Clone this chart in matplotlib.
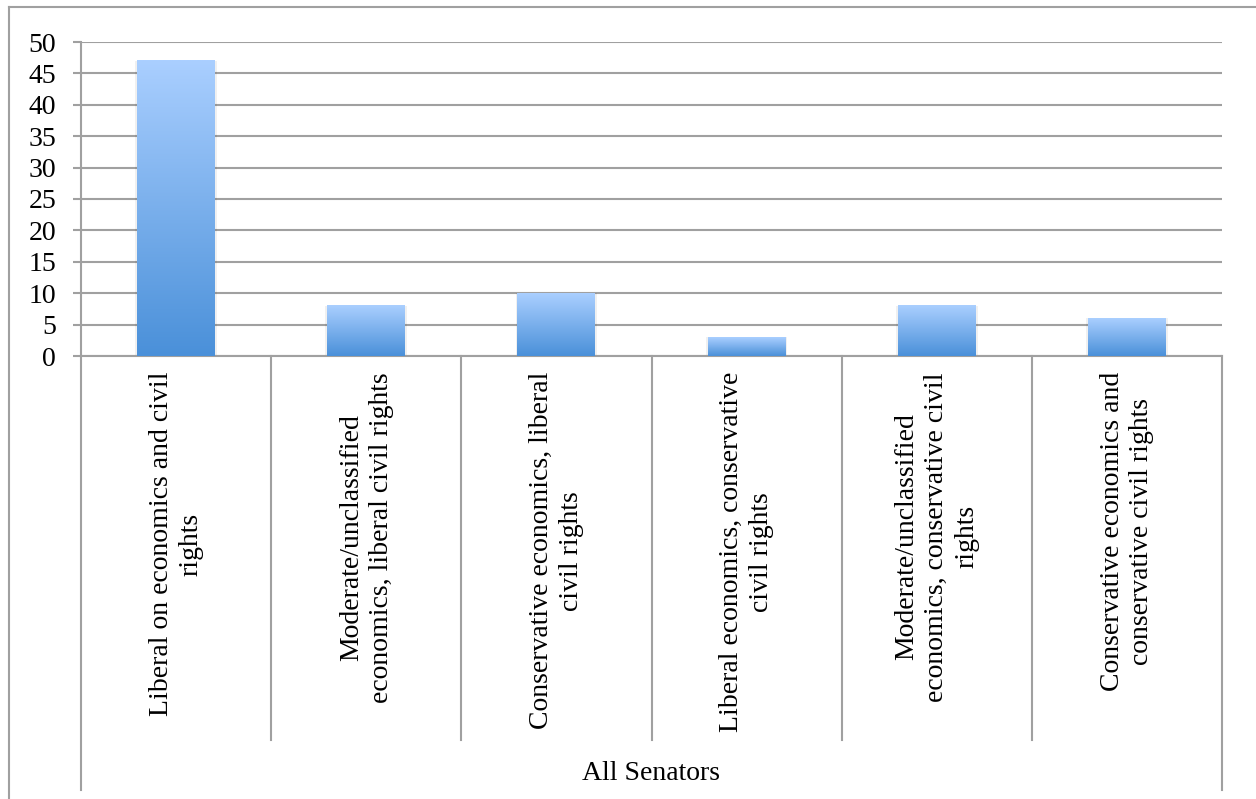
import numpy as np
import matplotlib
matplotlib.use("Agg")
import matplotlib.pyplot as plt
from matplotlib.colors import LinearSegmentedColormap

categories = ["Liberal on economics and civil\nrights",
              "Moderate/unclassified\neconomics, liberal civil rights",
              "Conservative economics, liberal\ncivil rights",
              "Liberal economics, conservative\ncivil rights",
              "Moderate/unclassified\neconomics, conservative civil\nrights",
              "Conservative economics and\nconservative civil rights"]
values = [47, 8, 10, 3, 8, 6]
group_label = "All Senators"
yticks = list(range(0, 51, 5))

plt.rcParams['font.family'] = ['Liberation Serif', 'DejaVu Serif']
grey = '#a0a0a0'

fig = plt.figure(figsize=(12.56, 7.99), dpi=100)
ax = fig.add_axes([81/1256, 1 - 356/799, (1222-81)/1256, (356-42)/799])

# outer chart border (left/top visible)
fig.add_artist(plt.Line2D([9/1256, 9/1256], [0, 1 - 7/799], color=grey, lw=1.5))
fig.add_artist(plt.Line2D([9/1256, 1], [1 - 7/799, 1 - 7/799], color=grey, lw=1.5))

x = np.arange(len(values))
width = 0.41
bars = ax.bar(x, values, width=width, color='none', edgecolor='none', zorder=3)

cmap = LinearSegmentedColormap.from_list('bl', ['#4a90d9', '#aacfff'])
grad = np.linspace(0, 1, 256).reshape(-1, 1)
for b in bars:
    x0, w, h = b.get_x(), b.get_width(), b.get_height()
    # soft shadow
    ax.bar(x0 + w/2, h + 0.2, width=w + 0.02, bottom=-0.2, color='#000000', alpha=0.06, zorder=2)
    ax.imshow(grad, cmap=cmap, origin='lower', aspect='auto',
              extent=(x0, x0 + w, 0, h), zorder=4)

ax.set_xlim(-0.5, len(values) - 0.5)
ax.set_ylim(0, 50)
ax.set_yticks(yticks)
ax.set_yticklabels([str(t) for t in yticks], fontsize=20)
ax.tick_params(axis='y', length=6, width=1.5, color=grey, pad=12)
ax.set_xticks([])
ax.yaxis.grid(True, color=grey, lw=1.5, zorder=0)
ax.set_axisbelow(True)
for s in ['top', 'right']:
    ax.spines[s].set_visible(False)
ax.spines['left'].set_color(grey)
ax.spines['left'].set_linewidth(1.5)
ax.spines['bottom'].set_color(grey)
ax.spines['bottom'].set_linewidth(1.5)

trans = ax.get_xaxis_transform()
ax_h = 314.0
for i in range(len(values) + 1):
    xe = i - 0.5
    low = -(790 - 356) / ax_h if i in (0, len(values)) else -(740 - 356) / ax_h
    ax.plot([xe, xe], [0, low], transform=trans, color=grey, lw=1.5, clip_on=False)

for i, lab in enumerate(categories):
    ax.text(i, -(372 - 356) / ax_h, lab, transform=trans, rotation=90,
            ha='center', va='top', multialignment='center', fontsize=20,
            linespacing=1.25)

ax.text((len(values) - 1) / 2, -(773 - 356) / ax_h, group_label, transform=trans,
        ha='center', va='center', fontsize=20)

fig.savefig('out.png', dpi=100)
